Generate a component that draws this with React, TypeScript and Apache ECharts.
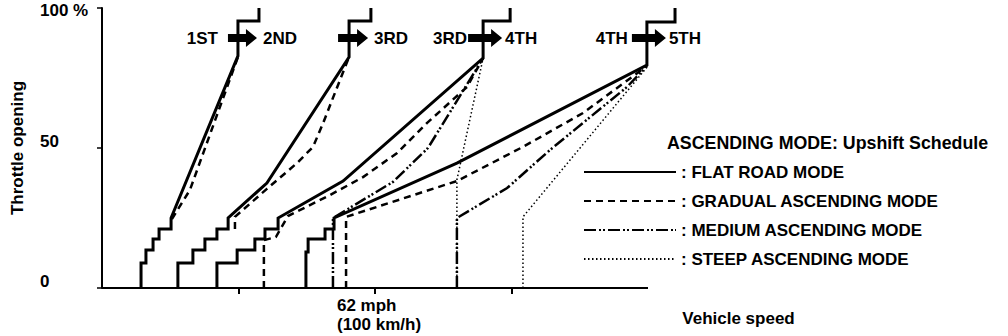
import { useEffect, useRef } from 'react';
import * as echarts from 'echarts';

const FONT = '"Liberation Sans", Arial, Helvetica, sans-serif';

// Axis ticks / labels
const xTickValues = [50, 100, 150];
const xLabelValues = [100];
const yTickValues = [0, 50, 100];
const xAxisLine = [[0, 0], [200, 0]];
const modeNames = ['FLAT ROAD MODE', 'GRADUAL ASCENDING MODE', 'MEDIUM ASCENDING MODE', 'STEEP ASCENDING MODE'];

// [vehicle speed km/h, throttle %]
const flat12 = [[14.3, 0], [14.3, 8.9], [16.1, 8.9], [16.1, 13.6], [18.7, 13.6], [18.7, 17.5], [20.9, 17.5], [20.9, 21.1], [25.3, 21.1], [25.3, 25], [49.8, 82.9], [49.8, 95.4], [57.5, 95.4], [57.5, 100]];
const flat23 = [[27.8, 0], [27.8, 8.9], [33.3, 8.9], [33.3, 13.6], [37.7, 13.6], [37.7, 17.5], [42.1, 17.5], [42.1, 21.1], [46.2, 21.1], [46.2, 25], [60.4, 37.5], [90.5, 82.5], [90.5, 95.4], [98.5, 95.4], [98.5, 100]];
const flat34 = [[42.1, 0], [42.1, 8.9], [49.5, 8.9], [49.5, 13.6], [56, 13.6], [56, 17.5], [59.7, 17.5], [59.7, 21.1], [64.5, 21.1], [64.5, 25], [88.3, 38.2], [139.6, 82.1], [139.6, 95.4], [149.5, 95.4], [149.5, 100]];
const flat45 = [[74.7, 0], [74.7, 12.9], [75.5, 12.9], [75.5, 17.5], [81.7, 17.5], [81.7, 21.1], [85, 21.1], [85, 25], [130, 44.6], [199.6, 79.6], [199.6, 95], [209.9, 95], [209.9, 100]];

const grad12 = [[25.6, 24.6], [32.2, 35], [49.8, 82.5]];
const grad23 = [[48.7, 21.1], [48.7, 25.4], [60.4, 35.4], [71.4, 44.6], [77.3, 50.4], [81, 58.9], [84.6, 67.9], [90.5, 82.5]];
const grad34 = [[59.3, 0], [59.3, 17.1], [63.7, 18.2], [68.1, 25.7], [83.5, 33.2], [95.6, 39.6], [108.1, 48.2], [119, 58.9], [133.7, 71.8], [139.6, 82.1]];
const grad45 = [[89.4, 0], [89.4, 25.4], [130, 38.2], [154.2, 50.4], [176.2, 62.5], [199.6, 79.3]];

const med34 = [[84.6, 0], [84.6, 25], [106.6, 37.9], [119.4, 50], [139.6, 82.1]];
const med45 = [[130, 0], [130, 25], [148.4, 35.7], [164.1, 49.3], [192.3, 71.8], [199.6, 79.3]];

const steep34 = [[130, 0], [130, 38.6], [139.6, 82.1]];
const steep45 = [[154.2, 0], [154.2, 25.4], [200, 79.3]];

// Shift annotations (speed of the vertical segment of each upshift)
const shiftSpeeds = [49.8, 90.5, 139.6, 199.6];
const shiftThrottle = 89.3;
const fromGears = ['1ST', '', '3RD', '4TH'];
const toGears = ['2ND', '3RD', '4TH', '5TH'];

const styles: any[] = [
  { width: 3, type: 'solid' },
  { width: 2.5, type: [7, 5] },
  { width: 2.5, type: [12, 3, 2, 2, 2, 3] },
  { width: 1.5, type: [1.5, 2.5] },
];

function mk(mode: number, data: number[][], z: number) {
  return {
    type: 'line',
    name: modeNames[mode],
    data,
    symbol: 'none',
    clip: false,
    z,
    lineStyle: { color: '#000', width: styles[mode].width, type: styles[mode].type, cap: 'butt', join: 'miter' },
    itemStyle: { color: '#000' },
  };
}

export default function App() {
  const ref = useRef<HTMLDivElement>(null);
  useEffect(() => {
    const chart = echarts.init(ref.current!, null, { renderer: 'svg' });
    const bold = { fontFamily: FONT, fontWeight: 'bold', fontSize: 17, color: '#000' };
    chart.setOption({
      animation: false,
      backgroundColor: '#fff',
      textStyle: { fontFamily: FONT },
      // x axis spans 0..210 km/h so that the 4TH->5TH step fits; drawn axis line stops at 200
      grid: { left: 102, right: 332.7, top: 8, bottom: 48 },
      title: {
        text: 'ASCENDING MODE: Upshift Schedule',
        left: 667,
        top: 134,
        padding: 0,
        textStyle: { ...bold, fontSize: 17.8 },
      },
      legend: {
        data: modeNames,
        formatter: (n: string) => ': ' + n,
        orient: 'vertical',
        left: 583,
        top: 162,
        padding: 0,
        itemWidth: 92,
        itemHeight: 14,
        itemGap: 9,
        selectedMode: false,
        itemStyle: { opacity: 0, color: 'transparent', borderWidth: 0 },
        textStyle: { ...bold, lineHeight: 20 },
      },
      xAxis: {
        type: 'value',
        min: 0,
        max: 210,
        interval: 50,
        name: 'Vehicle speed',
        nameLocation: 'end',
        nameGap: 7,
        nameTextStyle: { ...bold, align: 'left', verticalAlign: 'top', padding: [22, 0, 0, 0] },
        axisLine: { show: false },
        axisTick: { customValues: xTickValues, length: 6, lineStyle: { color: '#000', width: 2 } },
        axisLabel: {
          customValues: xLabelValues,
          margin: 8,
          formatter: () => '{a|62 mph}\n{a|(100 km/h)}',
          rich: { a: { ...bold, align: 'left', lineHeight: 19 } },
          padding: [0, 0, 0, 8],
        },
        splitLine: { show: false },
      },
      yAxis: {
        type: 'value',
        min: 0,
        max: 100,
        interval: 50,
        name: 'Throttle opening',
        nameLocation: 'middle',
        nameRotate: 90,
        nameGap: 76,
        nameTextStyle: bold,
        axisLine: { lineStyle: { color: '#000', width: 2 } },
        axisTick: { customValues: yTickValues, length: 5, lineStyle: { color: '#000', width: 1.5 } },
        axisLabel: {
          align: 'left',
          margin: 62,
          formatter: (v: number) => (v === 100 ? '{t|100 %}' : `{m|${v}}`),
          rich: {
            t: { ...bold, padding: [4, 0, 0, 0] },
            m: { ...bold, padding: [0, 0, 14, 0] },
          },
        },
        splitLine: { show: false },
      },
      series: [
        {
          type: 'line',
          name: 'x axis',
          data: xAxisLine,
          symbol: 'none',
          z: 1,
          lineStyle: { color: '#000', width: 2 },
        },
        mk(0, flat12, 5), mk(0, flat23, 5), mk(0, flat34, 5), mk(0, flat45, 5),
        mk(1, grad12, 4), mk(1, grad23, 4), mk(1, grad34, 4), mk(1, grad45, 4),
        mk(2, med34, 3), mk(2, med45, 3),
        mk(3, steep34, 2), mk(3, steep45, 2),
      ],
    });

    const tail = [10, 11, 15, 15];
    const leftGap = [10, 0, 1, 4];
    const rightGap = [6, 6, 3, 3];
    const gfx: any[] = [];
    shiftSpeeds.forEach((s, i) => {
      const p = chart.convertToPixel({ gridIndex: 0 }, [s, shiftThrottle]) as number[];
      const cx = p[0];
      const cy = p[1];
      gfx.push({
        type: 'polygon',
        z: 100,
        shape: {
          points: [
            [cx - tail[i], cy - 4], [cx + 8, cy - 4], [cx + 8, cy - 9], [cx + 19, cy],
            [cx + 8, cy + 9], [cx + 8, cy + 4], [cx - tail[i], cy + 4],
          ],
        },
        style: { fill: '#000' },
      });
      if (fromGears[i]) {
        gfx.push({
          type: 'text', z: 100,
          style: { text: fromGears[i], x: cx - tail[i] - leftGap[i], y: cy + 1, align: 'right', verticalAlign: 'middle', font: `bold 17px ${FONT}`, fill: '#000' },
        });
      }
      gfx.push({
        type: 'text', z: 100,
        style: { text: toGears[i], x: cx + 19 + rightGap[i], y: cy + 1, align: 'left', verticalAlign: 'middle', font: `bold 17px ${FONT}`, fill: '#000' },
      });
    });
    chart.setOption({ graphic: gfx });
    return () => chart.dispose();
  }, []);
  return <div ref={ref} style={{ position: 'absolute', left: 0, top: 0, width: 1008, height: 336 }} />;
}
